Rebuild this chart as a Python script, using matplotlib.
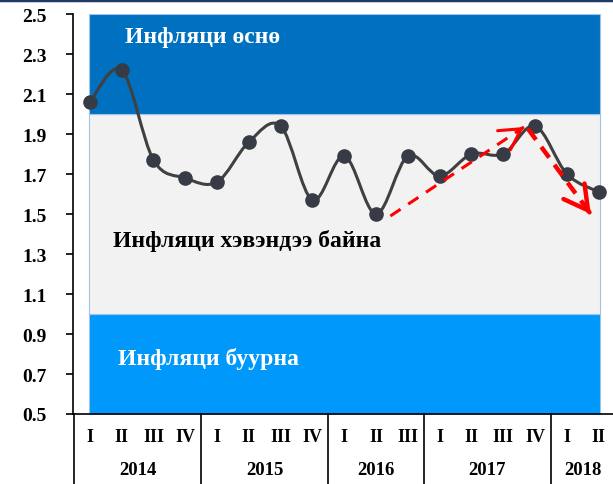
import numpy as np
import matplotlib.pyplot as plt
from matplotlib.path import Path
from matplotlib.patches import PathPatch

plt.rcParams['font.family'] = ['Liberation Serif', 'DejaVu Serif']
plt.rcParams['font.weight'] = 'bold'

# quarterly data
quarters = ['I', 'II', 'III', 'IV', 'I', 'II', 'III', 'IV', 'I', 'II', 'III',
            'I', 'II', 'III', 'IV', 'I', 'II']
years = ['2014', '2015', '2016', '2017', '2018']
year_sizes = [4, 4, 3, 4, 2]
values = [2.06, 2.22, 1.77, 1.68, 1.66, 1.86, 1.94, 1.57, 1.79, 1.50, 1.79,
          1.69, 1.80, 1.80, 1.94, 1.70, 1.61]
bands = [0.5, 1.0, 2.0, 2.5]
band_colors = ['#0098FA', '#F2F2F2', '#0070C0']


# smooth line like excel (catmull-rom as bezier segments)
def smooth_path(x, y):
  pts = np.column_stack([x, y])
  n = len(pts)
  verts = [pts[0]]
  codes = [Path.MOVETO]
  for i in range(n - 1):
    p0 = pts[max(i - 1, 0)]
    p1 = pts[i]
    p2 = pts[i + 1]
    p3 = pts[min(i + 2, n - 1)]
    c1 = p1 + (p2 - p0) / 6.0
    c2 = p2 - (p3 - p1) / 6.0
    verts += [c1, c2, p2]
    codes += [Path.CURVE4] * 3
  return Path(verts, codes)


# dashed line with a solid open arrow head
def dashed_arrow(ax, start, end, lw, dashes, head):
  ax.plot([start[0], end[0]], [start[1], end[1]], color='#FF0000', lw=lw,
          linestyle=(0, dashes), solid_capstyle='butt', zorder=5)
  tail = (end[0] - (end[0] - start[0]) * 0.02, end[1] - (end[1] - start[1]) * 0.02)
  ax.annotate('', xy=end, xytext=tail,
              arrowprops=dict(arrowstyle='->,head_length=%.2f,head_width=%.2f'
                              % (head, head * 0.55),
                              color='#FF0000', lw=lw, shrinkA=0, shrinkB=0),
              zorder=5)


fig = plt.figure(figsize=(6.13, 4.85), dpi=100)
ax = fig.add_axes([73 / 613, 70 / 485, 540 / 613, 400 / 485])

x = np.arange(len(values))

# background bands
for lo, hi, c in zip(bands[:-1], bands[1:], band_colors):
  ax.fill_between([-0.03, 16.05], lo, hi, color=c, edgecolor='#9DC3E6',
                  linewidth=0.8, zorder=1)

ax.add_patch(PathPatch(smooth_path(x, values), facecolor='none',
                       edgecolor='#404040', linewidth=2.2, zorder=3))
ax.plot(x, values, 'o', color='#373B45', markersize=9.5, zorder=4)

# red trend arrows
dashed_arrow(ax, (9.45, 1.49), (13.65, 1.935), 2.2, (4, 3), 1.5)
dashed_arrow(ax, (13.78, 1.925), (15.75, 1.50), 3.2, (3, 2), 1.7)

ax.text(1.1, 2.39, 'Инфляци өснө', color='white', fontsize=17,
        fontweight='bold', va='center', zorder=6)
ax.text(0.72, 1.37, 'Инфляци хэвэндээ байна', color='black', fontsize=17,
        fontweight='bold', va='center', zorder=6)
ax.text(0.88, 0.78, 'Инфляци буурна', color='white', fontsize=17,
        fontweight='bold', va='center', zorder=6)

ax.set_xlim(-0.53, 16.45)
ax.set_ylim(0.5, 2.5)
ax.set_yticks(np.arange(0.5, 2.51, 0.2))
ax.set_yticklabels(['%.1f' % v for v in np.arange(0.5, 2.51, 0.2)],
                   fontsize=14, fontweight='bold')
ax.tick_params(axis='y', direction='out', length=5, width=1.2, pad=14)
ax.set_xticks(x)
ax.set_xticklabels(quarters, fontsize=13, fontweight='bold')
ax.tick_params(axis='x', length=0, pad=10)

for s in ['top', 'right']:
  ax.spines[s].set_visible(False)
ax.spines['left'].set_linewidth(1.2)
ax.spines['bottom'].set_linewidth(1.2)

# year separators and labels below the axis
trans = ax.get_xaxis_transform()
edges = np.concatenate([[0], np.cumsum(year_sizes)]) - 0.5
for e in edges:
  ax.plot([e, e], [0, -0.175], color='black', lw=1.2, transform=trans,
          clip_on=False)
for i, yr in enumerate(years):
  ax.text((edges[i] + edges[i + 1]) / 2, -0.138, yr, transform=trans,
          ha='center', va='center', fontsize=13.5, fontweight='bold')

# dark frame line on top
fig.add_artist(plt.Line2D([0, 1], [0.998, 0.998], color='#1F3864', lw=2.5))

fig.savefig('out.png', dpi=100)
